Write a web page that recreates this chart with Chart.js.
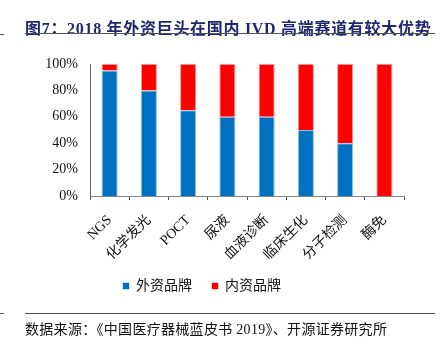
<!DOCTYPE html>
<html>
<head>
<meta charset="utf-8">
<script src="https://cdn.jsdelivr.net/npm/chart.js@4.4.1/dist/chart.umd.min.js"></script>
<style>
  html, body { margin: 0; padding: 0; background: #fff; }
  #wrap { position: relative; width: 442px; height: 344px; overflow: hidden; }
  #c { position: absolute; left: 0; top: 0; }
  .title { position: absolute; left: 25px; top: 15px; font: bold 16px "Liberation Serif", "Noto Sans CJK SC", serif;
    color: #1f2770; white-space: nowrap; letter-spacing: 0.7px; }
  .rule { position: absolute; height: 1px; background: #555; }
  .src { position: absolute; left: 25px; top: 318px; font: 14px "Liberation Serif", "Noto Sans CJK SC", serif;
    color: #111; letter-spacing: 0.3px; white-space: nowrap; }
</style>
</head>
<body>
<div id="wrap">
  <canvas id="c" width="442" height="344"></canvas>
  <div class="title">图7：2018 年外资巨头在国内 IVD 高端赛道有较大优势</div>
  <div class="rule" style="left:25px; top:33px; width:410px;"></div>
  <div class="rule" style="left:0; top:34px; width:4px;"></div>
  <div class="rule" style="left:25px; top:313px; width:410px;"></div>
  <div class="rule" style="left:0; top:313px; width:4px;"></div>
  <div class="src">数据来源：《中国医疗器械蓝皮书 2019》、开源证券研究所</div>
</div>
<script>
  // IVD segments, share of foreign vs domestic brands (%)
  var categories = ["NGS", "化学发光", "POCT", "尿液", "血液诊断", "临床生化", "分子检测", "酶免"];
  var foreignShare = [95, 80, 65, 60, 60, 50, 40, 0];
  var domesticShare = [5, 20, 35, 40, 40, 50, 60, 100];
  var yTicks = [0, 20, 40, 60, 80, 100];

  var BLUE = "#0070c0", RED = "#ff0000";
  var SERIF = "'Liberation Serif', 'Noto Sans CJK SC', serif";

  new Chart(document.getElementById("c"), {
    type: "bar",
    data: {
      labels: categories,
      datasets: [
        { label: "外资品牌", data: foreignShare, backgroundColor: BLUE,
          borderColor: "rgba(0,112,192,0.45)", borderWidth: 1 },
        { label: "内资品牌", data: domesticShare, backgroundColor: RED,
          borderColor: "rgba(255,0,0,0.4)", borderWidth: 1 }
      ]
    },
    options: {
      responsive: false, animation: false,
      layout: { padding: { left: 0, top: 64, right: 38, bottom: 41 } },
      datasets: { bar: { categoryPercentage: 1, barPercentage: 0.41 } },
      plugins: {
        legend: {
          position: "bottom",
          labels: { boxWidth: 6, boxHeight: 6, padding: 20, color: "#111",
            font: { family: SERIF, size: 14 } }
        },
        tooltip: { enabled: false }
      },
      scales: {
        x: {
          stacked: true,
          afterFit: function (s) { s.height = 63; },
          grid: { display: true, drawOnChartArea: false, offset: true, tickLength: 4, color: "#555" },
          border: { display: true, color: "#888" },
          ticks: { maxRotation: 45, minRotation: 45, color: "#111", padding: 12,
            font: { family: SERIF, size: 14 } }
        },
        y: {
          stacked: true, min: 0, max: 100,
          afterFit: function (s) { s.width = 90; },
          afterBuildTicks: function (s) { s.ticks = yTicks.map(function (v) { return { value: v }; }); },
          grid: { display: false, drawTicks: false },
          border: { display: true, color: "#666" },
          ticks: { color: "#111", padding: 12, font: { family: SERIF, size: 14 },
            callback: function (v) { return v + "%"; } }
        }
      }
    }
  });
</script>
</body>
</html>
